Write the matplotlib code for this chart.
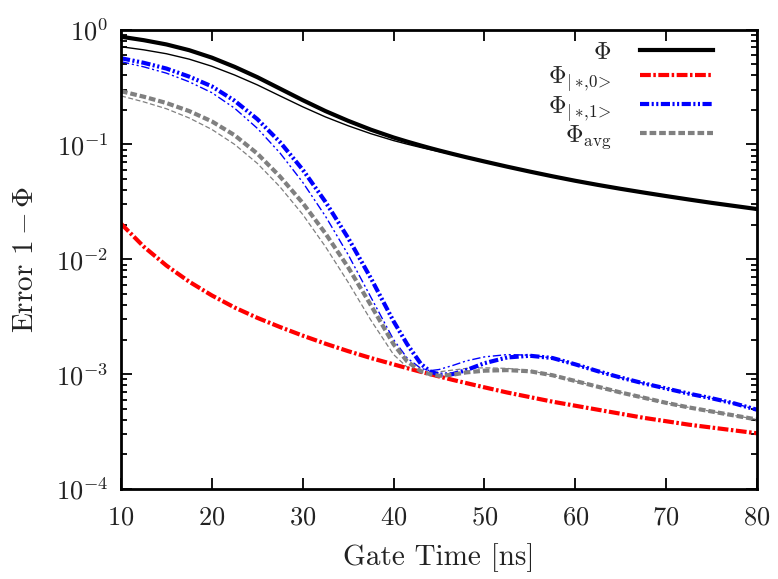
import numpy as np
import matplotlib
matplotlib.use("Agg")
import matplotlib.pyplot as plt
from matplotlib.ticker import LogLocator, FixedLocator

plt.rcParams['font.family'] = 'serif'
plt.rcParams['font.serif'] = ['cmr10']
plt.rcParams['mathtext.fontset'] = 'cm'
plt.rcParams['axes.formatter.use_mathtext'] = True

# gate time [ns]
t = [10, 12.5, 15, 17.5, 20, 22.5, 25, 27.5, 30, 32.5, 35, 37.5, 40, 41.5, 43, 44,
     45, 46.5, 48, 50, 52.5, 55, 57.5, 60, 62.5, 65, 67.5, 70, 72.5, 75, 77.5, 80]

# log10 of the error 1 - Phi
phi_thick = [-0.063, -0.093, -0.13, -0.18, -0.245, -0.325, -0.415, -0.515, -0.615, -0.71, -0.795, -0.872,
             -0.94, -0.976, -1.01, -1.032, -1.053, -1.083, -1.112, -1.149, -1.194, -1.237, -1.278,
             -1.317, -1.353, -1.387, -1.419, -1.45, -1.48, -1.509, -1.536, -1.563]
phi_thin = [-0.150, -0.177, -0.211, -0.258, -0.320, -0.396, -0.482, -0.578, -0.673, -0.761, -0.838, -0.907,
            -0.967, -0.998, -1.027, -1.045, -1.062, -1.087, -1.112, -1.149, -1.194, -1.237, -1.278,
            -1.317, -1.353, -1.387, -1.419, -1.45, -1.48, -1.509, -1.536, -1.563]
phi0 = [-1.69, -1.89, -2.055, -2.195, -2.315, -2.42, -2.51, -2.59, -2.665, -2.735, -2.80, -2.86,
        -2.915, -2.948, -2.98, -3.0, -3.02, -3.05, -3.078, -3.115, -3.16, -3.20, -3.24,
        -3.275, -3.31, -3.345, -3.38, -3.41, -3.44, -3.465, -3.49, -3.515]
phi1_thick = [-0.25, -0.29, -0.34, -0.41, -0.495, -0.62, -0.78, -0.98, -1.22, -1.50, -1.815, -2.165,
              -2.54, -2.74, -2.91, -2.975, -3.005, -3.0, -2.965, -2.905, -2.855, -2.84, -2.86,
              -2.915, -2.975, -3.03, -3.08, -3.125, -3.17, -3.21, -3.255, -3.31]
phi1_thin = [-0.28, -0.325, -0.38, -0.455, -0.55, -0.685, -0.86, -1.075, -1.33, -1.625, -1.96, -2.33,
             -2.70, -2.86, -2.95, -2.97, -2.96, -2.925, -2.885, -2.85, -2.83, -2.835, -2.86,
             -2.915, -2.975, -3.03, -3.08, -3.125, -3.17, -3.21, -3.255, -3.31]
avg_thick = [-0.537, -0.585, -0.64, -0.71, -0.80, -0.92, -1.08, -1.28, -1.51, -1.775, -2.07, -2.40,
             -2.74, -2.89, -2.975, -3.0, -3.015, -3.005, -2.985, -2.97, -2.965, -2.975, -3.01,
             -3.06, -3.11, -3.16, -3.205, -3.25, -3.29, -3.325, -3.36, -3.395]
avg_thin = [-0.578, -0.63, -0.69, -0.77, -0.87, -1.0, -1.165, -1.37, -1.61, -1.89, -2.20, -2.53,
            -2.83, -2.94, -2.985, -2.99, -2.98, -2.965, -2.95, -2.945, -2.95, -2.97, -3.01,
            -3.06, -3.11, -3.16, -3.205, -3.25, -3.29, -3.325, -3.36, -3.395]

labels = [r'$\Phi$', r'$\Phi_{|*\!,\!0\!>}$', r'$\Phi_{|*\!,\!1\!>}$', r'$\Phi_{\rm avg}$']

fig = plt.figure(figsize=(7.78, 5.79), dpi=100)
ax = fig.add_axes([121/778, 1-489/579, 636/778, 459.5/579])

t = np.array(t)
def e(v):
    return 10.0 ** np.array(v)

txt = '#222222'
# thin lines
ax.plot(t, e(phi_thin), color='black', lw=1.0)
ax.plot(t, e(phi1_thin), color='#0000ff', lw=1.0, dashes=[6, 2, 1.5, 2, 1.5, 2])
ax.plot(t, e(avg_thin), color='#808080', lw=0.9, dashes=[4, 2])
# thick lines
l1, = ax.plot(t, e(phi_thick), color='black', lw=3.0)
l2, = ax.plot(t, e(phi0), color='#ff0000', lw=3.0, dashes=[2.6, 0.6, 0.6, 0.6])
l3, = ax.plot(t, e(phi1_thick), color='#0000ff', lw=3.0, dashes=[2.2, 0.6, 0.5, 0.6, 0.5, 0.6])
l4, = ax.plot(t, e(avg_thick), color='#808080', lw=3.0, dashes=[1.6, 0.7])

ax.set_yscale('log')
ax.set_xlim(10, 80)
ax.set_ylim(1e-4, 1)
ax.xaxis.set_major_locator(FixedLocator([10, 20, 30, 40, 50, 60, 70, 80]))
ax.yaxis.set_major_locator(LogLocator(base=10, numticks=10))
ax.yaxis.set_minor_locator(LogLocator(base=10, subs=np.arange(2, 10), numticks=10))
ax.tick_params(which='both', direction='in', top=True, right=True, width=1.3,
               labelsize=19, colors='black', labelcolor=txt)
ax.tick_params(axis='x', pad=12)
ax.tick_params(axis='y', pad=9)
ax.tick_params(which='major', length=8)
ax.tick_params(which='minor', length=4.5)
for s in ax.spines.values():
    s.set_linewidth(2.0)

ax.set_xlabel('Gate Time [ns]', fontsize=21, color=txt, labelpad=10)
ax.set_ylabel(r'Error $1-\Phi$', fontsize=21, color=txt, labelpad=12)

leg = ax.legend([l1, l2, l3, l4], labels, loc='upper right', bbox_to_anchor=(0.95, 1.0),
                frameon=False, markerfirst=False, fontsize=17.5, handlelength=3.0,
                labelspacing=0.02, handletextpad=1.2, borderpad=0)
for tx in leg.get_texts():
    tx.set_color(txt)

fig.savefig('out.png', dpi=100)
